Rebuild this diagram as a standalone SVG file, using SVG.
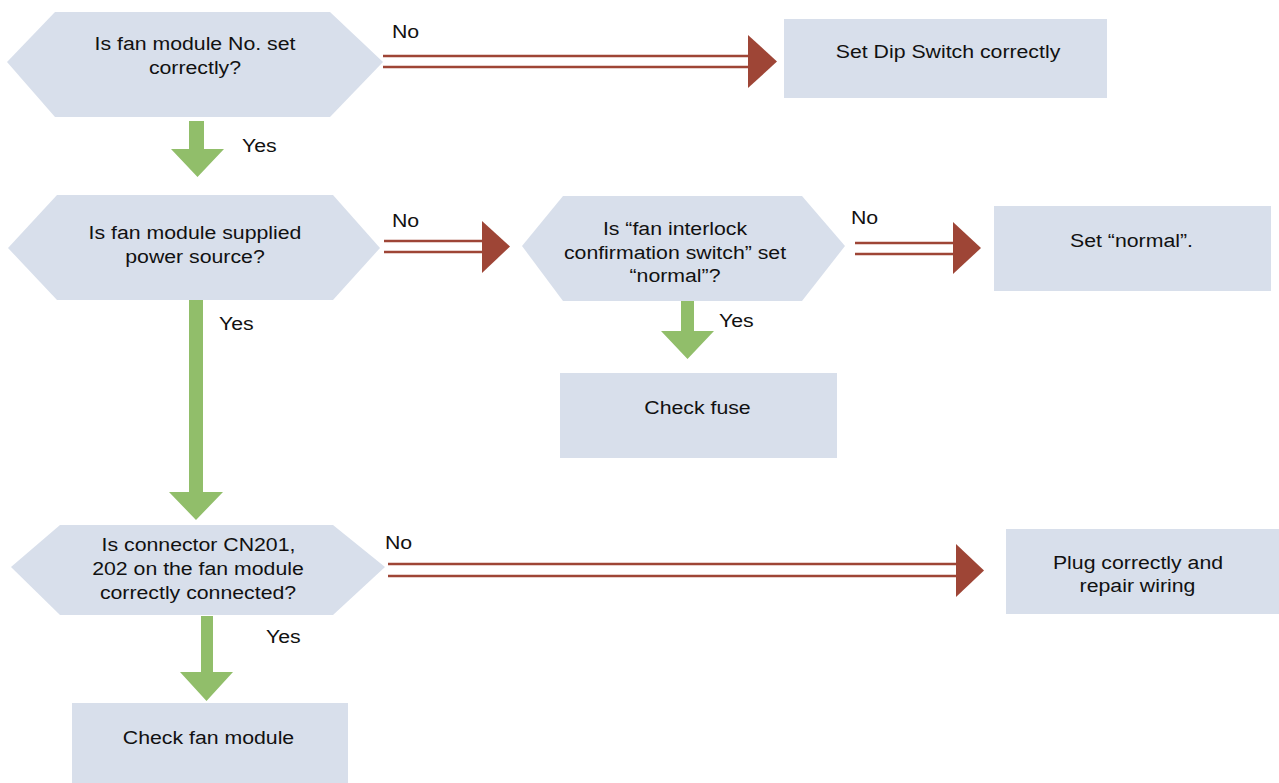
<svg xmlns="http://www.w3.org/2000/svg" width="1279" height="783" viewBox="0 0 1279 783">
<style>
.shape{fill:#D8DFEB}
.t{font-family:"Liberation Sans",Arial,sans-serif;font-size:19px;fill:#111}
.c{text-anchor:middle}
.red{stroke:#9E4536;stroke-width:2.5;fill:none}
.redhead{fill:#9E4536}
.green{fill:#91BE6A}
</style>
<rect width="1279" height="783" fill="#FFFFFF"/>
<g id="connectors">
  <g id="no1">
    <line class="red" x1="383" y1="56" x2="750" y2="56"/>
    <line class="red" x1="383" y1="67" x2="750" y2="67"/>
    <polygon class="redhead" points="748,35 777,61.5 748,88"/>
    <text class="t" transform="translate(392,38) scale(1.12,1)">No</text>
  </g>
  <g id="yes1">
    <polygon class="green" points="189,121 204,121 204,149 224,149 197.5,177 171,149 189,149"/>
    <text class="t" transform="translate(242,152) scale(1.12,1)">Yes</text>
  </g>
  <g id="no2">
    <line class="red" x1="384" y1="241" x2="484" y2="241"/>
    <line class="red" x1="384" y1="252" x2="484" y2="252"/>
    <polygon class="redhead" points="482,221 510,246.5 482,273"/>
    <text class="t" transform="translate(392,227) scale(1.12,1)">No</text>
  </g>
  <g id="no3">
    <line class="red" x1="855" y1="243" x2="955" y2="243"/>
    <line class="red" x1="855" y1="254" x2="955" y2="254"/>
    <polygon class="redhead" points="953,222 981,248 953,274"/>
    <text class="t" transform="translate(851,224) scale(1.12,1)">No</text>
  </g>
  <g id="yes3">
    <polygon class="green" points="681,301 694,301 694,331 714,331 687.5,359 661,331 681,331"/>
    <text class="t" transform="translate(719,327) scale(1.12,1)">Yes</text>
  </g>
  <g id="yes2">
    <polygon class="green" points="189,300 203,300 203,492 223,492 196,520 169,492 189,492"/>
    <text class="t" transform="translate(219,330) scale(1.12,1)">Yes</text>
  </g>
  <g id="no4">
    <line class="red" x1="388" y1="564" x2="958" y2="564"/>
    <line class="red" x1="388" y1="576" x2="958" y2="576"/>
    <polygon class="redhead" points="956,544 984,570.5 956,597"/>
    <text class="t" transform="translate(385,549) scale(1.12,1)">No</text>
  </g>
  <g id="yes4">
    <polygon class="green" points="201,616 213,616 213,672 233,672 206.5,701 180,672 201,672"/>
    <text class="t" transform="translate(266,643) scale(1.12,1)">Yes</text>
  </g>
</g>
<g id="q1">
  <polygon class="shape" points="7,62 55,12 330,12 383,62 330,117 55,117"/>
  <text class="t c" transform="translate(195,50) scale(1.12,1)">Is fan module No. set</text>
  <text class="t c" transform="translate(195,74) scale(1.12,1)">correctly?</text>
</g>
<g id="dip">
  <rect class="shape" x="784" y="19" width="323" height="79"/>
  <text class="t c" transform="translate(948,58) scale(1.12,1)">Set Dip Switch correctly</text>
</g>
<g id="q2">
  <polygon class="shape" points="8,248 57,195 333,195 380,248 333,300 57,300"/>
  <text class="t c" transform="translate(195,239) scale(1.12,1)">Is fan module supplied</text>
  <text class="t c" transform="translate(195,263) scale(1.12,1)">power source?</text>
</g>
<g id="q3">
  <polygon class="shape" points="522,246 563,196 802,196 845,246 802,301 563,301"/>
  <text class="t c" transform="translate(675,235) scale(1.12,1)">Is “fan interlock</text>
  <text class="t c" transform="translate(675,258.5) scale(1.12,1)">confirmation switch” set</text>
  <text class="t c" transform="translate(675,282) scale(1.12,1)">“normal”?</text>
</g>
<g id="setnormal">
  <rect class="shape" x="994" y="206" width="277" height="85"/>
  <text class="t c" transform="translate(1131.5,247) scale(1.12,1)">Set “normal”.</text>
</g>
<g id="fuse">
  <rect class="shape" x="560" y="373" width="277" height="85"/>
  <text class="t c" transform="translate(697.5,414) scale(1.12,1)">Check fuse</text>
</g>
<g id="q4">
  <polygon class="shape" points="11,567 60,525 333,525 385,567 333,615 60,615"/>
  <text class="t c" transform="translate(198.5,550.5) scale(1.12,1)">Is connector CN201,</text>
  <text class="t c" transform="translate(198,575) scale(1.12,1)">202 on the fan module</text>
  <text class="t c" transform="translate(198,599) scale(1.12,1)">correctly connected?</text>
</g>
<g id="plug">
  <rect class="shape" x="1006" y="529" width="273" height="85"/>
  <text class="t c" transform="translate(1138,569) scale(1.12,1)">Plug correctly and</text>
  <text class="t c" transform="translate(1137.5,592) scale(1.12,1)">repair wiring</text>
</g>
<g id="fanmodule">
  <rect class="shape" x="72" y="703" width="276" height="82"/>
  <text class="t c" transform="translate(208.5,744) scale(1.12,1)">Check fan module</text>
</g>
</svg>
